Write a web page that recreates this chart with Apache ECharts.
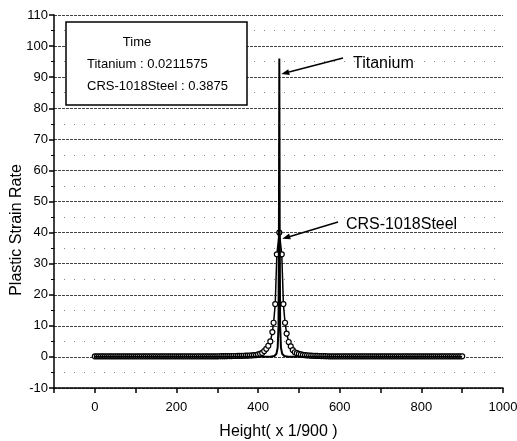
<!DOCTYPE html>
<html><head><meta charset="utf-8">
<script src="https://cdn.jsdelivr.net/npm/echarts@6/dist/echarts.min.js"></script>
<style>html,body{margin:0;padding:0;background:#fff}#c{width:517px;height:441px}</style>
</head><body><div id="c"></div>
<script>
// CRS-1018Steel: Height positions (x 1/900) and plastic strain rate
const steelHeights = [0,5,10,15,20,25,30,35,40,45,50,55,60,65,70,75,80,85,90,95,100,105,110,115,120,125,130,135,140,145,150,155,160,165,170,175,180,185,190,195,200,205,210,215,220,225,230,235,240,245,250,255,260,265,270,275,280,285,290,295,
  300,305,310,315,320,325,330,335,340,345,
  350,355,360,365,370,375,380,385,390,395,400,405,410,415,420,
  425,430,435,438,442,446,452,458,462,466,470,475,480,
  485,490,495,500,505,510,515,520,525,530,535,540,545,550,555,560,565,570,
  575,580,585,590,595,600,605,610,615,620,625,630,635,640,645,650,655,660,665,670,675,680,685,690,695,700,705,710,715,720,725,730,735,740,745,750,755,760,765,770,775,780,785,790,795,800,805,810,815,820,825,830,835,840,845,850,855,860,865,870,875,880,885,890,895,900];
const steel = [0.2,0.2,0.2,0.2,0.2,0.2,0.2,0.2,0.2,0.2,0.2,0.2,0.2,0.2,0.2,0.2,0.2,0.2,0.2,0.2,0.2,0.2,0.2,0.2,0.2,0.2,0.2,0.2,0.2,0.2,0.2,0.2,0.2,0.2,0.2,0.2,0.2,0.2,0.2,0.2,0.2,0.2,0.2,0.2,0.2,0.2,0.2,0.2,0.2,0.2,0.2,0.2,0.2,0.2,0.2,0.2,0.2,0.2,0.2,0.2,
  0.2,0.22,0.23,0.24,0.25,0.26,0.27,0.28,0.29,0.3,
  0.32,0.34,0.36,0.38,0.4,0.42,0.45,0.5,0.55,0.6,0.8,1.0,1.3,1.9,2.6,
  3.6,5,8,11,17,33,40,33,17,11,7.5,4.8,3.4,
  2.2,1.5,1.2,1.0,0.8,0.65,0.55,0.5,0.45,0.4,0.38,0.35,0.32,0.3,0.28,0.26,0.24,0.22,
  0.2,0.2,0.2,0.2,0.2,0.2,0.2,0.2,0.2,0.2,0.2,0.2,0.2,0.2,0.2,0.2,0.2,0.2,0.2,0.2,0.2,0.2,0.2,0.2,0.2,0.2,0.2,0.2,0.2,0.2,0.2,0.2,0.2,0.2,0.2,0.2,0.2,0.2,0.2,0.2,0.2,0.2,0.2,0.2,0.2,0.2,0.2,0.2,0.2,0.2,0.2,0.2,0.2,0.2,0.2,0.2,0.2,0.2,0.2,0.2,0.2,0.2,0.2,0.2,0.2,0.2];
// Titanium: Height positions and plastic strain rate
const tiHeights = [0,100,200,300,400,430,440,445,448,450,451,452,453,454,456,459,464,474,500,600,700,800,900];
const titanium = [0.02,0.02,0.02,0.02,0.02,0.05,0.3,1,3,10,40,96,40,10,3,1,0.3,0.05,0.02,0.02,0.02,0.02,0.02];
const xTickLabels = [0,200,400,600,800,1000];
const legendLines = ['Time','Titanium : 0.0211575','CRS-1018Steel : 0.3875'];

const FONT = '"Liberation Sans", Arial, sans-serif';
const chart = echarts.init(document.getElementById('c'));
const pairs = (xs, ys) => xs.map((h,i)=>[h, ys[i]]);

chart.setOption({
  animation:false,
  backgroundColor:'#fff',
  grid:{left:54, right:14, top:15, bottom:53, containLabel:false, outerBoundsMode:'none'},
  xAxis:{
    type:'value', min:-100, max:1000, interval:100,
    name:'Height( x 1/900 )', nameLocation:'middle', nameGap:36,
    nameTextStyle:{fontFamily:FONT, fontSize:16, color:'#000'},
    axisLine:{onZero:false, lineStyle:{color:'#000', width:1.5}},
    axisTick:{length:5, lineStyle:{color:'#000', width:1.5}},
    axisLabel:{fontFamily:FONT, fontSize:13, color:'#000', margin:13,
      formatter:(v)=> xTickLabels.includes(v) ? String(v) : ''},
    splitLine:{show:false}
  },
  yAxis:{
    type:'value', min:-10, max:110, interval:10,
    axisLine:{show:true, onZero:false, lineStyle:{color:'#000', width:1.5}},
    axisTick:{show:true, length:5, lineStyle:{color:'#000', width:1.5}},
    minorTick:{show:true, splitNumber:2, length:3, lineStyle:{color:'#000', width:1}},
    axisLabel:{fontFamily:FONT, fontSize:13, color:'#000', margin:6},
    splitLine:{show:true, lineStyle:{color:'#444', width:1, type:[3,1]}},
    minorSplitLine:{show:true, lineStyle:{color:'#888', width:1, type:[1,9]}}
  },
  series:[
    {name:'CRS-1018Steel', type:'line', data:pairs(steelHeights, steel), symbol:'circle', symbolSize:5,
      showAllSymbol:true,
      itemStyle:{color:'#fff', borderColor:'#000', borderWidth:1.2},
      lineStyle:{color:'#000', width:1.5}, z:3},
    {name:'Titanium', type:'line', data:pairs(tiHeights, titanium), symbol:'none',
      lineStyle:{color:'#000', width:2}, z:4}
  ]
});

function arrow(x1,y1,x2,y2){
  const dx=x2-x1, dy=y2-y1, L=Math.hypot(dx,dy), ux=dx/L, uy=dy/L;
  const hl=8, hw=3;
  const bx=x2-ux*hl, by=y2-uy*hl;
  return [
    {type:'line', shape:{x1:x1,y1:y1,x2:bx,y2:by}, style:{stroke:'#000', lineWidth:1.5}},
    {type:'polygon', shape:{points:[[x2,y2],[bx-uy*hw,by+ux*hw],[bx+uy*hw,by-ux*hw]]}, style:{fill:'#000'}}
  ];
}
const tiTip = chart.convertToPixel({gridIndex:0}, [452, 91]);
const stTip = chart.convertToPixel({gridIndex:0}, [452, 38]);
const g = [
  {type:'rect', shape:{x:66, y:22, width:181, height:83}, style:{fill:'#fff', stroke:'#000', lineWidth:1.5}, z:10},
  {type:'text', x:137, y:42, style:{text:legendLines[0], font:'13px '+FONT, fill:'#000', align:'center', verticalAlign:'middle'}, z:11},
  {type:'text', x:87, y:64, style:{text:legendLines[1], font:'13px '+FONT, fill:'#000', align:'left', verticalAlign:'middle'}, z:11},
  {type:'text', x:87, y:86, style:{text:legendLines[2], font:'13px '+FONT, fill:'#000', align:'left', verticalAlign:'middle'}, z:11},
  {type:'text', x:17, y:230, rotation:Math.PI/2, style:{text:'Plastic Strain Rate', font:'16px '+FONT, fill:'#000', align:'center', verticalAlign:'middle'}, z:11},
  {type:'text', x:353, y:64, style:{text:'Titanium', font:'16px '+FONT, fill:'#000', align:'left', verticalAlign:'middle'}, z:11},
  {type:'text', x:346, y:225, style:{text:'CRS-1018Steel', font:'16px '+FONT, fill:'#000', align:'left', verticalAlign:'middle'}, z:11},
  ...arrow(343, 58, tiTip[0]+2, tiTip[1]),
  ...arrow(338, 222, stTip[0]+3, stTip[1])
];
chart.setOption({graphic:g});
</script></body></html>
